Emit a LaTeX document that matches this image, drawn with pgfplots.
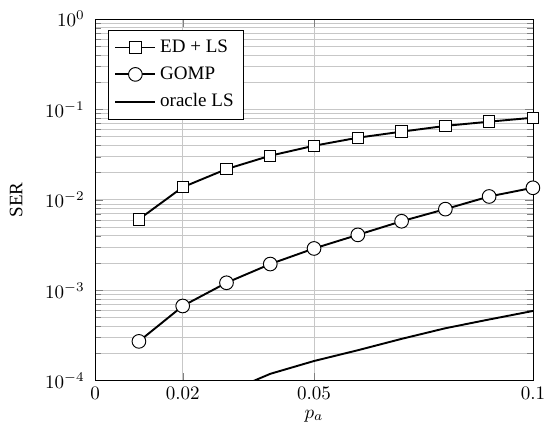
\documentclass[border=0pt]{standalone}
\usepackage{fontspec}
\setmainfont{Liberation Serif}
\usepackage{pgfplots}
\pgfplotsset{compat=1.18}

\begin{document}
\begin{tikzpicture}
% fixed frame round the axis box (axis south west sits at the origin)
\useasboundingbox (-50pt,-25.8pt) rectangle (237.4pt,200pt);
\begin{axis}[
  scale only axis,
  width=230pt,
  height=190pt,
  xmin=0, xmax=0.1,
  ymin=1e-4, ymax=1,
  ymode=log,
  xtick={0,0.02,0.05,0.1},
  xticklabels={$0$,$0.02$,$0.05$,$0.1$},
  grid=both,
  major grid style={line width=.4pt, draw=black!22},
  minor grid style={line width=.4pt, draw=black!22},
  minor x tick num=0,
  xlabel={$p_a$},
  ylabel={SER},
  xlabel style={yshift=1.5pt},
  ylabel style={yshift=5pt},
  yticklabel style={xshift=-2pt},
  legend image code/.code={
    \draw[line width=1pt, black] (0cm,0cm) -- (0.74cm,0cm);
    \draw plot coordinates {(0.37cm,0cm)};},
  legend cell align=left,
  legend style={at={(0.03,0.97)}, anchor=north west, draw=black, fill=white,
    font=\normalsize, row sep=2pt, inner sep=3pt},
]
% ED + LS
\addplot[black, line width=1pt, mark=square*, mark size=3pt, mark options={fill=white, line width=.5pt}] coordinates {
(0.01,6.1e-3) (0.02,1.38e-2) (0.03,2.19e-2) (0.04,3.08e-2) (0.05,3.97e-2)
(0.06,4.87e-2) (0.07,5.68e-2) (0.08,6.58e-2) (0.09,7.33e-2) (0.1,8.1e-2)
};
\addlegendentry{ED + LS}
% GOMP
\addplot[black, line width=1pt, mark=*, mark size=3.6pt, mark options={fill=white, line width=.5pt}] coordinates {
(0.01,2.72e-4) (0.02,6.7e-4) (0.03,1.21e-3) (0.04,1.95e-3) (0.05,2.9e-3)
(0.06,4.1e-3) (0.07,5.8e-3) (0.08,7.9e-3) (0.09,1.09e-2) (0.1,1.36e-2)
};
\addlegendentry{GOMP}
% oracle LS
\addplot[black, line width=1pt] coordinates {
(0.01,1.3e-5) (0.02,3.6e-5) (0.03,7.4e-5) (0.04,1.19e-4) (0.05,1.65e-4)
(0.06,2.17e-4) (0.07,2.9e-4) (0.08,3.8e-4) (0.09,4.75e-4) (0.1,5.9e-4)
};
\addlegendentry{oracle LS}
\end{axis}
\end{tikzpicture}
\end{document}
